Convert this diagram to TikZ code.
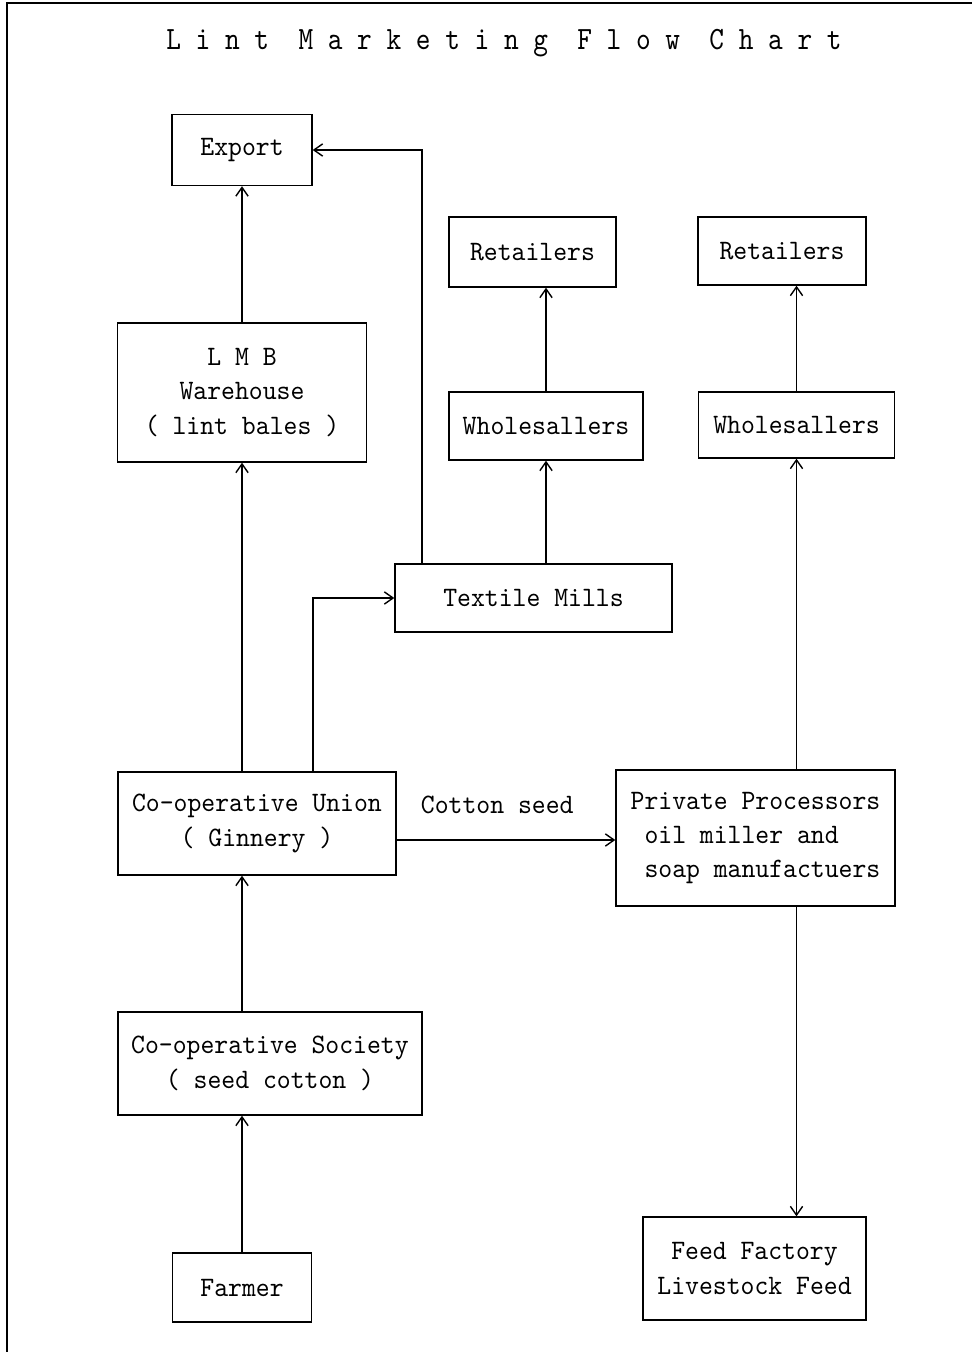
\documentclass[tikz,border=0pt]{standalone}
\usepackage{fontspec}
\setmonofont[FakeStretch=0.94]{lmmono10-regular.otf}
\newfontfamily\titlefont[FakeStretch=0.86]{lmmono10-regular.otf}
\usetikzlibrary{arrows.meta}

\begin{document}
\begin{tikzpicture}[
    every node/.style={font=\ttfamily\fontsize{16}{19.5}\selectfont},
    block/.style={draw, line width=0.8pt, inner sep=0pt},
    flow/.style={-{Straight Barb[length=5pt, width=7pt]}, line width=0.8pt}]
    \useasboundingbox (0,0) rectangle (19.44,-27.04);
    \draw[line width=1.4pt] (0.14,-27.04) -- (0.14,-0.06) -- (19.44,-0.06);
    \node[font=\titlefont\fontsize{18.5}{20}\selectfont] (title) at (10.08,-0.86) {L~i~n~t~~M~a~r~k~e~t~i~n~g~~F~l~o~w~~C~h~a~r~t};
    \node[block, minimum width=2.8cm, minimum height=1.42cm] (export) at (4.84,-3.00) {Export};
    \node[block, minimum width=4.98cm, minimum height=2.78cm, align=center] (lmb) at (4.84,-7.85) {L M B\\Warehouse\\( lint bales )};
    \node[block, minimum width=3.34cm, minimum height=1.40cm] (retail1) at (10.65,-5.04) {Retailers};
    \node[block, minimum width=3.88cm, minimum height=1.36cm] (whole1) at (10.92,-8.52) {Wholesallers};
    \node[block, minimum width=3.36cm, minimum height=1.36cm] (retail2) at (15.64,-5.02) {Retailers};
    \node[block, minimum width=3.92cm, minimum height=1.32cm] (whole2) at (15.93,-8.50) {Wholesallers};
    \node[block, minimum width=5.54cm, minimum height=1.36cm] (textile) at (10.67,-11.96) {Textile Mills};
    \node[block, minimum width=5.56cm, minimum height=2.06cm, align=center] (union) at (5.14,-16.47) {Co-operative Union\\( Ginnery )};
    \node[block, minimum width=5.58cm, minimum height=2.72cm, align=left] (private) at (15.11,-16.76) {Private Processors\\\hphantom{a}oil miller and\\\hphantom{a}soap manufactuers};
    \node[block, minimum width=6.08cm, minimum height=2.06cm, align=center] (society) at (5.40,-21.27) {Co-operative Society\\( seed cotton )};
    \node[block, minimum width=2.78cm, minimum height=1.38cm] (farmer) at (4.84,-25.75) {Farmer};
    \node[block, minimum width=4.46cm, minimum height=2.06cm, align=center] (feed) at (15.09,-25.37) {Feed Factory\\Livestock Feed};
    \draw[flow] (farmer.north) -- (farmer.north |- society.south);
    \draw[flow] (lmb.south |- society.north) -- (lmb.south |- union.south);
    \draw[flow] (lmb.south |- union.north) -- (lmb.south);
    \draw[flow] (lmb.north) -- (export.south);
    \draw[flow] ([xshift=1.12cm]union.north) |- (textile);
    \draw[flow] ([xshift=-2.23cm]textile.north) |- (export);
    \draw[flow] (whole1.south |- textile.north) -- (whole1.south);
    \draw[flow] (whole1.north) -- (whole1.north |- retail1.south);
    \draw[flow] ([yshift=-0.33cm]union.east) -- node[pos=0.46, above=0.4cm] {Cotton seed} ([yshift=-0.33cm]union.east -| private.west);
    \draw[flow] (whole2.south |- private.north) -- (whole2.south);
    \draw[flow] (whole2.north) -- (whole2.north |- retail2.south);
    \draw[flow] (whole2.south |- private.south) -- (whole2.south |- feed.north);
\end{tikzpicture}
\end{document}
